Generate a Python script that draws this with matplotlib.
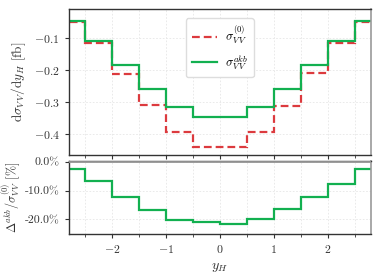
import numpy as np
import matplotlib
matplotlib.use("Agg")
import matplotlib.pyplot as plt
from matplotlib.ticker import MultipleLocator, FuncFormatter

plt.rcParams['font.family'] = 'serif'
plt.rcParams['font.serif'] = ['cmr10']
plt.rcParams['mathtext.fontset'] = 'cm'
plt.rcParams['axes.formatter.use_mathtext'] = True
plt.rcParams['axes.unicode_minus'] = True

edges = [-3.0, -2.5, -2.0, -1.5, -1.0, -0.5, 0.0, 0.5, 1.0, 1.5, 2.0, 2.5, 3.0]
sigma_lo = [-0.051, -0.1175, -0.2135, -0.311, -0.396, -0.441, -0.441, -0.396, -0.3125, -0.211, -0.1175, -0.051]
sigma_akb = [-0.049, -0.111, -0.186, -0.259, -0.316, -0.349, -0.347, -0.3175, -0.261, -0.186, -0.111, -0.049]
ratio_pct = [-2.7, -6.6, -12.3, -16.6, -20.2, -21.0, -21.4, -19.9, -16.2, -12.2, -7.7, -2.6]

red = '#dc3a3e'
green = '#12b050'
VV = r'V\,V'

fig = plt.figure(figsize=(3.8, 2.73), dpi=100)
ax1 = fig.add_axes([0.181, 0.432, 0.795, 0.534])
ax2 = fig.add_axes([0.181, 0.143, 0.795, 0.267])

ax1.stairs(sigma_lo, edges, baseline=None, color=red, lw=1.6, ls=(0, (3.5, 1.8)),
           label=r'$\sigma_{%s}^{(0)}$' % VV)
ax1.stairs(sigma_akb, edges, baseline=None, color=green, lw=1.6,
           label=r'$\sigma_{%s}^{akb}$' % VV)
ax2.stairs(ratio_pct, edges, baseline=None, color=green, lw=1.6)
ax2.axhline(0, color='#999999', lw=1.3, zorder=5)

for ax in (ax1, ax2):
    ax.set_xlim(-2.8, 2.8)
    ax.xaxis.set_major_locator(MultipleLocator(1))
    ax.xaxis.set_minor_locator(MultipleLocator(0.5))
    ax.grid(True, which='both', color='#e6e6e6', lw=0.6, ls=(0, (2, 2)))
    ax.set_axisbelow(True)
    ax.tick_params(labelsize=8.5, colors='#333333', length=3, width=0.8)
    ax.tick_params(which='minor', length=2, width=0.6, colors='#333333')
    for s in ('left', 'top', 'bottom'):
        ax.spines[s].set_color('#333333')
        ax.spines[s].set_linewidth(1.0)
    ax.spines['right'].set_color('#999999')
    ax.spines['right'].set_linewidth(1.2)

ax1.set_ylim(-0.467, -0.011)
ax1.yaxis.set_major_locator(MultipleLocator(0.1))
ax1.tick_params(axis='x', labelbottom=False)
ax1.set_ylabel(r'$\mathrm{d}\sigma_{%s}/\mathrm{d}y_H$ [fb]' % VV, fontsize=9.5, color='#333333', labelpad=4)
ax1.legend(loc='upper center', fontsize=9, frameon=True, framealpha=1.0,
           edgecolor='#dddddd', handlelength=2.0, borderpad=0.45, labelspacing=0.5,
           handletextpad=0.7, bbox_to_anchor=(0.5, 0.98))

ax2.set_ylim(-25, 0.2)
ax2.set_yticks([0, -10, -20])
ax2.yaxis.set_major_formatter(FuncFormatter(lambda v, p: ('%.1f%%' % v).replace('\u2212', '-')))
ax2.set_ylabel(r'$\Delta^{akb}/\sigma_{%s}^{(0)}$ [%%]' % VV, fontsize=8.8, color='#333333', labelpad=2)
ax2.set_xlabel(r'$y_H$', fontsize=10, color='#333333')
fig.align_ylabels([ax1, ax2])

fig.savefig('out.png', dpi=100)
